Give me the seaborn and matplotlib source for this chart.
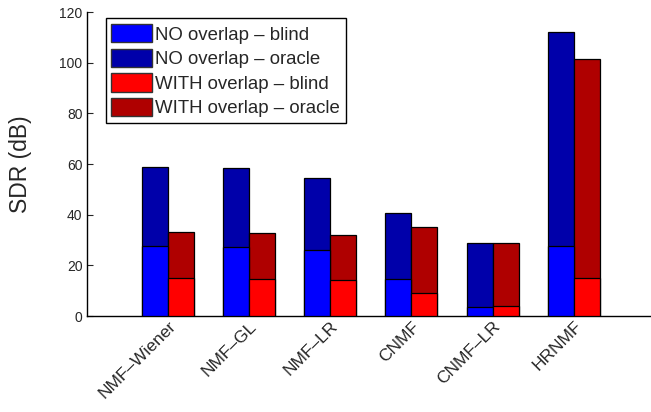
import matplotlib
matplotlib.use("Agg")
import matplotlib.pyplot as plt
from matplotlib.patches import Patch
import pandas as pd
import seaborn as sns

methods = ["NMF–Wiener", "NMF–GL", "NMF–LR", "CNMF", "CNMF–LR", "HRNMF"]
no_overlap_blind = [27.8, 27.4, 26.2, 14.5, 3.7, 27.5]
no_overlap_oracle = [58.9, 58.3, 54.5, 40.8, 28.7, 112.1]
with_overlap_blind = [14.9, 14.5, 14.3, 9.0, 3.9, 14.9]
with_overlap_oracle = [33.0, 32.6, 31.8, 35.3, 28.9, 101.5]

conditions = ["NO overlap", "WITH overlap"]
oracle_df = pd.DataFrame({
    "method": methods * 2,
    "condition": [conditions[0]] * 6 + [conditions[1]] * 6,
    "sdr": no_overlap_oracle + with_overlap_oracle,
})
blind_df = pd.DataFrame({
    "method": methods * 2,
    "condition": [conditions[0]] * 6 + [conditions[1]] * 6,
    "sdr": no_overlap_blind + with_overlap_blind,
})

c_blue, c_dblue = "#0000FF", "#0000AA"
c_red, c_dred = "#FF0000", "#AF0000"

sns.set_style("white")
plt.rcParams["font.family"] = ["Liberation Sans", "DejaVu Sans"]

fig = plt.figure(figsize=(6.51, 4.12), dpi=100)
ax = fig.add_axes([86.7 / 651, 1 - 316 / 412, 1 - 86.7 / 651, 304 / 412])

bar_kw = dict(x="method", y="sdr", hue="condition", order=methods,
              hue_order=conditions, width=0.64, edgecolor="black",
              linewidth=0.9, saturation=1, legend=False, ax=ax)
# oracle totals behind, blind scores drawn in front
sns.barplot(data=oracle_df, palette={conditions[0]: c_dblue, conditions[1]: c_dred},
            zorder=2, **bar_kw)
sns.barplot(data=blind_df, palette={conditions[0]: c_blue, conditions[1]: c_red},
            zorder=3, **bar_kw)

ax.set_xlim(-1, 5.95)
ax.set_ylim(0, 120)
ax.set_yticks(range(0, 121, 20))
ax.set_xlabel("")
ax.set_ylabel("SDR (dB)", fontsize=16.5, labelpad=20)
ax.tick_params(axis="y", direction="in", length=4, width=0.8, labelsize=10, pad=3, left=True)
ax.tick_params(axis="x", direction="in", length=0, labelsize=12.5, pad=2)
plt.setp(ax.get_xticklabels(), rotation=45, ha="right", rotation_mode="anchor")

for side in ["top", "right"]:
    ax.spines[side].set_visible(False)
for side in ["left", "bottom"]:
    ax.spines[side].set_color("black")
    ax.spines[side].set_linewidth(1.0)

handles = [
    Patch(facecolor=c_blue, edgecolor="#333333", label="NO overlap – blind"),
    Patch(facecolor=c_dblue, edgecolor="#333333", label="NO overlap – oracle"),
    Patch(facecolor=c_red, edgecolor="#333333", label="WITH overlap – blind"),
    Patch(facecolor=c_dred, edgecolor="#333333", label="WITH overlap – oracle"),
]
leg = ax.legend(handles=handles, loc="upper left", bbox_to_anchor=(0.034, 0.979),
                borderaxespad=0, fontsize=13.4, handlelength=2.2, handleheight=1.15,
                handletextpad=0.15, labelspacing=0.27, borderpad=0.3,
                fancybox=False, framealpha=1)
leg.get_frame().set_edgecolor("black")
leg.get_frame().set_linewidth(1.0)

fig.savefig("out.png", dpi=100)
